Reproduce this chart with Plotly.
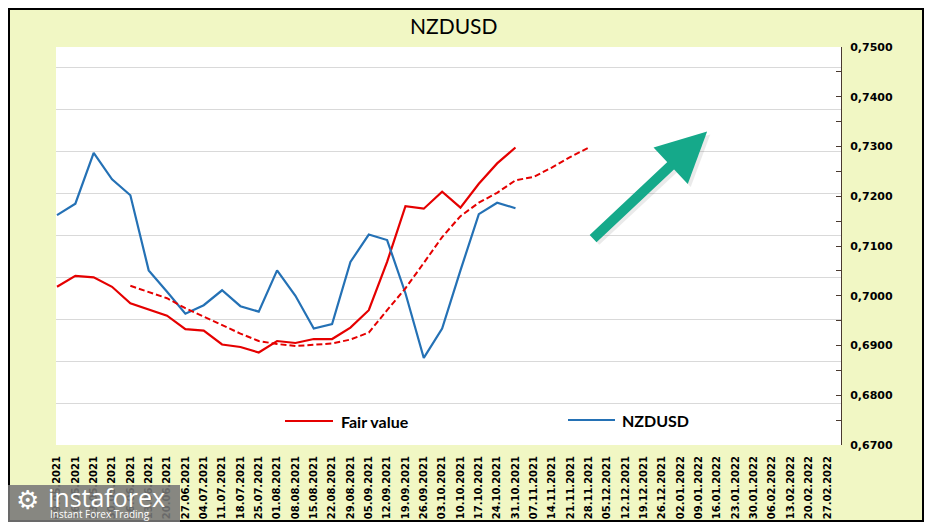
import plotly.graph_objects as go

dates = ["09.05.2021", "16.05.2021", "23.05.2021", "30.05.2021", "06.06.2021", "13.06.2021",
         "20.06.2021", "27.06.2021", "04.07.2021", "11.07.2021", "18.07.2021", "25.07.2021",
         "01.08.2021", "08.08.2021", "15.08.2021", "22.08.2021", "29.08.2021", "05.09.2021",
         "12.09.2021", "19.09.2021", "26.09.2021", "03.10.2021", "10.10.2021", "17.10.2021",
         "24.10.2021", "31.10.2021", "07.11.2021", "14.11.2021", "21.11.2021", "28.11.2021",
         "05.12.2021", "12.12.2021", "19.12.2021", "26.12.2021", "02.01.2022", "09.01.2022",
         "16.01.2022", "23.01.2022", "30.01.2022", "06.02.2022", "13.02.2022", "20.02.2022",
         "27.02.2022"]

fair_value = [0.7018, 0.7040, 0.7037, 0.7018, 0.6985, 0.6973, 0.6960, 0.6933, 0.6930, 0.6902,
              0.6897, 0.6886, 0.6909, 0.6905, 0.6913, 0.6913, 0.6936, 0.6971, 0.7068, 0.7180,
              0.7175, 0.7209, 0.7177, 0.7225, 0.7266, 0.7298]

nzdusd = [0.7162, 0.7185, 0.7287, 0.7234, 0.7202, 0.7051, 0.7008, 0.6964, 0.6981, 0.7011,
          0.6979, 0.6968, 0.7051, 0.7000, 0.6934, 0.6943, 0.7068, 0.7123, 0.7112, 0.7005,
          0.6875, 0.6934, 0.7051, 0.7164, 0.7187, 0.7176]

fair_trend_start = 4
fair_trend = [0.7020, 0.7008, 0.6995, 0.6975, 0.6958, 0.6941, 0.6924, 0.6909, 0.6903, 0.6899,
              0.6901, 0.6904, 0.6912, 0.6926, 0.6971, 0.7015, 0.7066, 0.7118, 0.7160, 0.7187,
              0.7207, 0.7232, 0.7239, 0.7258, 0.7279, 0.7298]

RED = "#E50000"
BLUE = "#2471B5"
GREEN = "#15A98A"
BG = "#F1F7C4"

# page offset (browser body margin) compensation: screen = figure + 8
OFF = 8
W, H = 916, 514
ml, mt = 56 - OFF, 47 - OFF
mr = W - (841 - OFF)
mb = H - (445 - OFF)
pw, ph = W - ml - mr, H - mt - mb


def sx(p):  # screen x pixel -> paper
    return (p - OFF - ml) / pw


def sy(p):  # screen y pixel -> paper
    return (H - mb - (p - OFF)) / ph


fig = go.Figure()
fig.add_trace(go.Scatter(x=dates[:len(fair_value)], y=fair_value, name="Fair value",
                         mode="lines", line=dict(color=RED, width=2.2), yaxis="y2"))
fig.add_trace(go.Scatter(x=dates[:len(nzdusd)], y=nzdusd, name="NZDUSD",
                         mode="lines", line=dict(color=BLUE, width=2.2), yaxis="y2"))
fig.add_trace(go.Scatter(x=dates[fair_trend_start:fair_trend_start + len(fair_trend)], y=fair_trend,
                         name="Fair value trend",
                         mode="lines", line=dict(color=RED, width=2, dash="6px,3px"), yaxis="y2"))
# invisible anchor for the gridline axis
fig.add_trace(go.Scatter(x=[dates[0]], y=[0], mode="markers", marker=dict(opacity=0),
                         hoverinfo="skip", yaxis="y"))

shapes = [
    # outer border
    dict(type="rect", xref="paper", yref="paper",
         x0=sx(OFF + 1), x1=sx(OFF + W - 1), y0=sy(OFF + H - 1), y1=sy(OFF + 1),
         line=dict(color="black", width=2), fillcolor="rgba(0,0,0,0)", layer="above"),
    # legend samples
    dict(type="line", xref="paper", yref="paper", x0=sx(285), x1=sx(333), y0=sy(421), y1=sy(421),
         line=dict(color=RED, width=2.2)),
    dict(type="line", xref="paper", yref="paper", x0=sx(568), x1=sx(615), y0=sy(420), y1=sy(420),
         line=dict(color=BLUE, width=2.2)),
    # watermark box
    dict(type="rect", xref="paper", yref="paper",
         x0=sx(OFF), x1=sx(180), y0=sy(OFF + H), y1=sy(485),
         line=dict(width=0), fillcolor="rgba(120,120,120,0.88)", layer="above"),
]

annotations = [
    # arrow shadow
    dict(x=35.62, y=0.7324, ax=29.30, ay=0.7107, xref="x", yref="y2", axref="x", ayref="y2",
         showarrow=True, arrowhead=2, arrowsize=1.0, arrowwidth=10,
         arrowcolor="rgba(90,90,90,0.12)", text="", standoff=0, startstandoff=0),
    dict(x=35.45, y=0.7330, ax=29.15, ay=0.7112, xref="x", yref="y2", axref="x", ayref="y2",
         showarrow=True, arrowhead=2, arrowsize=1.0, arrowwidth=10,
         arrowcolor=GREEN, text="", standoff=0, startstandoff=0),
    dict(text="NZDUSD", x=sx(453), y=sy(25), xref="paper", yref="paper",
         xanchor="center", yanchor="middle",
         showarrow=False, font=dict(family="Lato", size=21, color="black")),
    dict(text="Fair value", x=sx(339), y=sy(421), xref="paper", yref="paper", xanchor="left",
         yanchor="middle", showarrow=False,
         font=dict(family="Lato", size=16, color="black", weight="bold")),
    dict(text="NZDUSD", x=sx(620), y=sy(420), xref="paper", yref="paper", xanchor="left",
         yanchor="middle", showarrow=False,
         font=dict(family="Lato", size=16, color="black", weight="bold")),
    dict(text="⚙", x=sx(27), y=sy(500), xref="paper", yref="paper",
         xanchor="center", yanchor="middle",
         showarrow=False, font=dict(family="DejaVu Sans", size=26, color="white")),
    dict(text="instaforex", x=sx(46), y=sy(497), xref="paper", yref="paper",
         xanchor="left", yanchor="middle", showarrow=False,
         font=dict(family="Open Sans", size=25, color="white")),
    dict(text="Instant Forex Trading", x=sx(48), y=sy(514), xref="paper", yref="paper",
         xanchor="left", yanchor="middle", showarrow=False,
         font=dict(family="Open Sans", size=10, color="white")),
]

fig.update_layout(
    width=W, height=H,
    margin=dict(l=ml, r=mr, t=mt, b=mb, pad=0, autoexpand=False),
    paper_bgcolor=BG, plot_bgcolor="white",
    separators=", ",
    showlegend=False,
    xaxis=dict(type="category", categoryorder="array", categoryarray=dates,
               range=[-0.055, 42.75], tickmode="array", tickvals=dates, ticktext=dates,
               tickangle=-90, showgrid=False, zeroline=False, showline=False, ticks="",
               ticklabelstandoff=8,
               tickfont=dict(family="DejaVu Sans", size=10, color="black", weight="bold")),
    yaxis=dict(range=[0, 9.49], dtick=1, showticklabels=False, showgrid=True,
               gridcolor="#D9D9D9", gridwidth=1, zeroline=False, showline=False, ticks=""),
    yaxis2=dict(overlaying="y", side="right", range=[0.67, 0.75], dtick=0.01, tickformat=".4f",
                showgrid=False, zeroline=False, showline=True, linecolor="#4A3A30", linewidth=1,
                ticks="inside", ticklen=5, tickcolor="#4A3A30", ticklabelstandoff=6,
                minor=dict(dtick=0.005, ticks="inside", ticklen=5, tickcolor="#4A3A30"),
                tickfont=dict(family="DejaVu Sans", size=11, color="black", weight="bold")),
    shapes=shapes,
    annotations=annotations,
)

fig.write_html("out.html")
